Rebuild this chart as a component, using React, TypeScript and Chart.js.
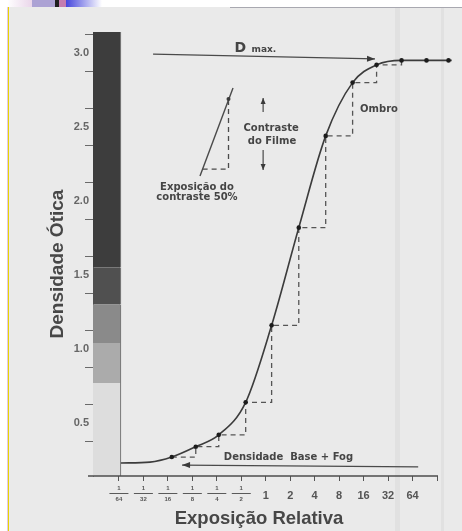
import React, { useEffect, useRef } from 'react';
import { Chart, registerables } from 'chart.js';

Chart.register(...registerables);

// ---------- data ----------
// x axis: relative exposure on a log2 scale (value = log2(exposure))
const exposureLog2 = [-6, -5, -4, -3, -2, -1, 0, 1, 2, 3, 4, 5, 6, 7];
const exposureLabels = ['1/64', '1/32', '1/16', '1/8', '1/4', '1/2', '1', '2', '4', '8', '16', '32', '64', ''];
const exposureAxisEnd = 7;
const xTitle = 'Exposição Relativa';
const yTitle = 'Densidade Ótica';

// y axis: optical density
const densityLabelValues = [0.5, 1.0, 1.5, 2.0, 2.5, 3.0];
const densityMarkValues = [0.375, 0.625, 0.875, 1.125, 1.375, 1.625, 1.875, 2.125, 2.375, 2.625, 2.875, 3.125];
const densityMin = 0.142;
const densityMax = 3.142;
const exposureMin = -7.06;
const exposureMax = 7.6;

// characteristic curve samples
const curveX = [-5.92, -4.73, -3.84, -2.86, -1.92, -0.82, 0.24, 1.35, 2.45, 3.55, 4.53, 5.55, 6.57, 7.47, 7.6];
const curveY = [0.23, 0.236, 0.27, 0.34, 0.42, 0.64, 1.16, 1.82, 2.44, 2.80, 2.92, 2.95, 2.95, 2.95, 2.95];

// marked points on the curve
const dotX = [-3.84, -2.86, -1.92, -0.82, 0.24, 1.35, 2.45, 3.55, 4.53, 5.55, 6.57, 7.47];
const dotY = [0.27, 0.34, 0.42, 0.64, 1.16, 1.82, 2.44, 2.80, 2.92, 2.95, 2.95, 2.95];
const stairCount = 10;

// grey step wedge
const wedgeX = -6.49;
const wedgeBands = [[0.142, 0.77], [0.77, 1.04], [1.04, 1.30], [1.30, 1.55], [1.55, 3.142]];
const wedgeColors = ['#dddddd', '#ababab', '#8a8a8a', '#505050', '#3d3d3d'];

// annotations (data coordinates)
const dMaxArrow = [[-4.605, 2.993], [4.466, 2.960]];
const fogArrow = [[6.23, 0.203], [-3.42, 0.216]];
const contrastUpArrow = [[-0.107, 2.601], [-0.107, 2.696]];
const contrastDownArrow = [[-0.107, 2.345], [-0.107, 2.210]];
const slopeLine = [[-2.687, 2.169], [-1.337, 2.764]];
const slopeLegs = [[-2.58, 2.216], [-1.522, 2.216], [-1.522, 2.689]];
const slopeDots = [[-1.522, 2.689]];
const notes = [
  { text: 'Exposição do', x: -2.81, y: 2.095, size: 10 },
  { text: 'contraste 50%', x: -2.81, y: 2.024, size: 10 },
  { text: 'Contraste', x: 0.218, y: 2.493, size: 10 },
  { text: 'do Filme', x: 0.255, y: 2.405, size: 10 },
  { text: 'Ombro', x: 4.63, y: 2.622, size: 10 },
  { text: 'Densidade  Base + Fog', x: 0.93, y: 0.27, size: 10 },
];
const dMaxTitle = { big: 'D', small: 'max.', x: -1.274, smallX: -0.58, y: 3.007 };
// axis title anchors
const xTitleCenter = { x: -0.275, yOffset: 43 };
const yTitleCenter = { y: 1.574, xOffset: 35 };

const AXIS_FONT = 'Liberation Sans, Arial, sans-serif';
const NOTE_FONT = 'DejaVu Sans, Verdana, sans-serif';

function arrow(ctx: CanvasRenderingContext2D, x1: number, y1: number, x2: number, y2: number, len: number, half: number) {
  ctx.beginPath();
  ctx.moveTo(x1, y1);
  ctx.lineTo(x2, y2);
  ctx.stroke();
  const a = Math.atan2(y2 - y1, x2 - x1);
  ctx.beginPath();
  ctx.moveTo(x2, y2);
  ctx.lineTo(x2 - len * Math.cos(a) + half * Math.sin(a), y2 - len * Math.sin(a) - half * Math.cos(a));
  ctx.lineTo(x2 - len * Math.cos(a) - half * Math.sin(a), y2 - len * Math.sin(a) + half * Math.cos(a));
  ctx.closePath();
  ctx.fill();
}

const backgroundPlugin = {
  id: 'scanBackground',
  beforeDraw(chart: any) {
    const ctx = chart.ctx as CanvasRenderingContext2D;
    const w = chart.width, h = chart.height;
    ctx.save();
    ctx.fillStyle = '#ffffff';
    ctx.fillRect(0, 0, w, h);
    ctx.fillStyle = '#eaeaea';
    ctx.fillRect(9, 7, w - 9, h - 7);
    ctx.fillStyle = '#e0c8e8';
    ctx.fillRect(7, 7, 1, h - 7);
    ctx.fillStyle = '#e8d400';
    ctx.fillRect(8, 7, 1, h - 7);
    // slide header decoration
    const g1 = ctx.createLinearGradient(7, 0, 32, 0);
    g1.addColorStop(0, '#ffffff');
    g1.addColorStop(1, '#ead6ea');
    ctx.fillStyle = g1;
    ctx.fillRect(7, 0, 25, 7);
    ctx.fillStyle = '#aca2d4';
    ctx.fillRect(32, 0, 23, 7);
    ctx.fillStyle = '#1e1e1e';
    ctx.fillRect(55, 0, 4, 7);
    ctx.fillStyle = '#c47cb0';
    ctx.fillRect(59, 0, 7, 7);
    const g2 = ctx.createLinearGradient(66, 0, 102, 0);
    g2.addColorStop(0, '#4646dc');
    g2.addColorStop(1, '#ffffff');
    ctx.fillStyle = g2;
    ctx.fillRect(66, 0, 36, 7);
    ctx.fillStyle = '#a8a8b0';
    ctx.fillRect(230, 7, w - 230, 1);
    // faint scan streaks
    ctx.fillStyle = 'rgba(0,0,0,0.035)';
    ctx.fillRect(395, 8, 5, h - 8);
    ctx.fillRect(441, 8, 3, h - 8);
    ctx.restore();
  },
};

const notesPlugin = {
  id: 'curveNotes',
  afterDatasetsDraw(chart: any) {
    const ctx = chart.ctx as CanvasRenderingContext2D;
    const xs = chart.scales.x, ys = chart.scales.y;
    const px = (v: number) => xs.getPixelForValue(v);
    const py = (v: number) => ys.getPixelForValue(v);
    ctx.save();
    ctx.strokeStyle = '#4a4a4a';
    ctx.fillStyle = '#3a3a3a';
    ctx.lineWidth = 1.2;
    arrow(ctx, px(dMaxArrow[0][0]), py(dMaxArrow[0][1]), px(dMaxArrow[1][0]), py(dMaxArrow[1][1]), 8, 3);
    arrow(ctx, px(fogArrow[0][0]), py(fogArrow[0][1]), px(fogArrow[1][0]), py(fogArrow[1][1]), 8, 3);
    arrow(ctx, px(contrastUpArrow[0][0]), py(contrastUpArrow[0][1]), px(contrastUpArrow[1][0]), py(contrastUpArrow[1][1]), 6, 2.5);
    arrow(ctx, px(contrastDownArrow[0][0]), py(contrastDownArrow[0][1]), px(contrastDownArrow[1][0]), py(contrastDownArrow[1][1]), 6, 2.5);
    // 50% contrast slope triangle
    ctx.lineWidth = 1.4;
    ctx.beginPath();
    ctx.moveTo(px(slopeLine[0][0]), py(slopeLine[0][1]));
    ctx.lineTo(px(slopeLine[1][0]), py(slopeLine[1][1]));
    ctx.stroke();
    ctx.setLineDash([5, 4]);
    ctx.lineWidth = 1.3;
    ctx.beginPath();
    slopeLegs.forEach((p, i) => (i ? ctx.lineTo(px(p[0]), py(p[1])) : ctx.moveTo(px(p[0]), py(p[1]))));
    ctx.stroke();
    ctx.setLineDash([]);
    slopeDots.forEach((p) => {
      ctx.beginPath();
      ctx.arc(px(p[0]), py(p[1]), 2, 0, Math.PI * 2);
      ctx.fill();
    });
    // texts
    ctx.fillStyle = '#454545';
    ctx.textAlign = 'center';
    ctx.textBaseline = 'middle';
    notes.forEach((n) => {
      ctx.font = `bold ${n.size}px ${NOTE_FONT}`;
      ctx.fillText(n.text, px(n.x), py(n.y));
    });
    ctx.textAlign = 'left';
    ctx.textBaseline = 'alphabetic';
    ctx.font = `bold 14px ${NOTE_FONT}`;
    ctx.fillText(dMaxTitle.big, px(dMaxTitle.x), py(dMaxTitle.y));
    ctx.font = `bold 9px ${NOTE_FONT}`;
    ctx.fillText(dMaxTitle.small, px(dMaxTitle.smallX), py(dMaxTitle.y));
    ctx.restore();
  },
  afterDraw(chart: any) {
    const ctx = chart.ctx as CanvasRenderingContext2D;
    const xs = chart.scales.x, ys = chart.scales.y;
    ctx.save();
    // x axis base line (ends at the last tick, the curve runs past it)
    ctx.strokeStyle = '#4c4c4c';
    ctx.lineWidth = 1.4;
    ctx.beginPath();
    ctx.moveTo(xs.left - 5, xs.top);
    ctx.lineTo(xs.getPixelForValue(exposureAxisEnd) + 1, xs.top);
    ctx.stroke();
    // fraction bars for the fractional exposure labels
    const y = xs.top + 5 + 1.5 + 11;
    ctx.strokeStyle = '#5a5a5a';
    ctx.lineWidth = 1;
    exposureLog2.forEach((v, i) => {
      if (exposureLabels[i].indexOf('/') < 0) return;
      const x = xs.getPixelForValue(v);
      ctx.beginPath();
      ctx.moveTo(x - 9.5, y);
      ctx.lineTo(x + 9.5, y);
      ctx.stroke();
    });
    // axis titles
    ctx.fillStyle = '#474747';
    ctx.textAlign = 'center';
    ctx.textBaseline = 'middle';
    ctx.font = `bold 18.5px ${AXIS_FONT}`;
    ctx.fillText(xTitle, xs.getPixelForValue(xTitleCenter.x), xs.top + xTitleCenter.yOffset);
    ctx.translate(ys.right - yTitleCenter.xOffset, ys.getPixelForValue(yTitleCenter.y));
    ctx.rotate(-Math.PI / 2);
    ctx.font = `bold 19px ${AXIS_FONT}`;
    ctx.fillText(yTitle, 0, 0);
    ctx.restore();
  },
};

export default function App() {
  const ref = useRef<HTMLCanvasElement | null>(null);

  useEffect(() => {
    document.body.style.margin = '0';
    const canvas = ref.current;
    if (!canvas) return;

    const curve = curveX.map((x, i) => ({ x, y: curveY[i] }));
    const dots = dotX.map((x, i) => ({ x, y: dotY[i] }));
    const stairs = dots.slice(0, stairCount);

    const wedgeSets = wedgeBands.map((b, i) => ({
      type: 'bar' as const,
      label: `wedge${i}`,
      data: [{ x: wedgeX, y: b }],
      backgroundColor: wedgeColors[i],
      borderColor: '#7a7a7a',
      borderWidth: { left: 0, right: 1.2, top: 0, bottom: 0 },
      borderSkipped: false,
      barThickness: 28,
      grouped: false,
      order: 10,
    }));

    const chart = new Chart(canvas, {
      type: 'scatter',
      data: {
        datasets: [
          {
            type: 'scatter',
            label: 'points',
            data: dots,
            pointRadius: 2.3,
            pointBackgroundColor: '#1c1c1c',
            pointBorderWidth: 0,
            clip: false,
            order: 0,
          },
          {
            type: 'line',
            label: 'curve',
            data: curve,
            borderColor: '#3c3c3c',
            borderWidth: 1.6,
            pointRadius: 0,
            cubicInterpolationMode: 'monotone',
            fill: false,
            clip: false,
            order: 1,
          },
          {
            type: 'line',
            label: 'steps',
            data: stairs,
            borderColor: '#555555',
            borderWidth: 1.3,
            borderDash: [5, 4],
            stepped: 'before',
            pointRadius: 0,
            fill: false,
            clip: false,
            order: 2,
          },
          ...wedgeSets,
        ] as any,
      },
      options: {
        animation: false,
        responsive: false,
        devicePixelRatio: 1,
        layout: { padding: { top: 32, right: 10.3, left: 0, bottom: 0 } },
        plugins: {
          legend: { display: false },
          tooltip: { enabled: false },
        },
        scales: {
          x: {
            type: 'linear',
            offset: false,
            min: exposureMin,
            max: exposureMax,
            afterFit: (s: any) => { s.height = 55; },
            afterBuildTicks: (s: any) => { s.ticks = exposureLog2.map((v) => ({ value: v })); },
            border: { display: false },
            grid: { offset: false, drawOnChartArea: false, drawTicks: true, tickLength: 5, tickColor: '#555555' },
            ticks: {
              autoSkip: false,
              maxRotation: 0,
              minRotation: 0,
              padding: 1.5,
              color: '#555555',
              font: (c: any) => {
                const v = c.tick ? c.tick.value : 0;
                return v < 0
                  ? { family: AXIS_FONT, size: 6, weight: 'bold', lineHeight: '11px' }
                  : { family: AXIS_FONT, size: 11, weight: 'bold', lineHeight: '27px' };
              },
              callback: (v: any) => {
                const i = exposureLog2.indexOf(Number(v));
                const t = i >= 0 ? exposureLabels[i] : '';
                return t.indexOf('/') >= 0 ? t.split('/') : t;
              },
            },
            title: { display: false, text: xTitle },
          },
          y: {
            type: 'linear',
            offset: false,
            min: densityMin,
            max: densityMax,
            afterFit: (s: any) => { s.width = 93; },
            afterBuildTicks: (s: any) => {
              s.ticks = [...densityLabelValues, ...densityMarkValues].sort((a, b) => a - b).map((v) => ({ value: v }));
            },
            border: { color: '#8a8a8a', width: 1 },
            grid: {
              drawOnChartArea: false,
              tickLength: 8,
              tickColor: (c: any) => (c.tick && Number.isInteger(c.tick.value * 2) ? 'rgba(0,0,0,0)' : '#6a6a6a'),
            },
            ticks: {
              padding: -4,
              color: '#666666',
              font: { family: AXIS_FONT, size: 11, weight: 'bold' },
              callback: (v: any) => (Number.isInteger(Number(v) * 2) ? Number(v).toFixed(1) : ''),
            },
            title: { display: false, text: yTitle },
          },
        },
      } as any,
      plugins: [backgroundPlugin, notesPlugin],
    });

    return () => chart.destroy();
  }, []);

  return (
    <div style={{ width: 462, height: 531 }}>
      <canvas ref={ref} width={462} height={531} style={{ display: 'block' }} />
    </div>
  );
}
